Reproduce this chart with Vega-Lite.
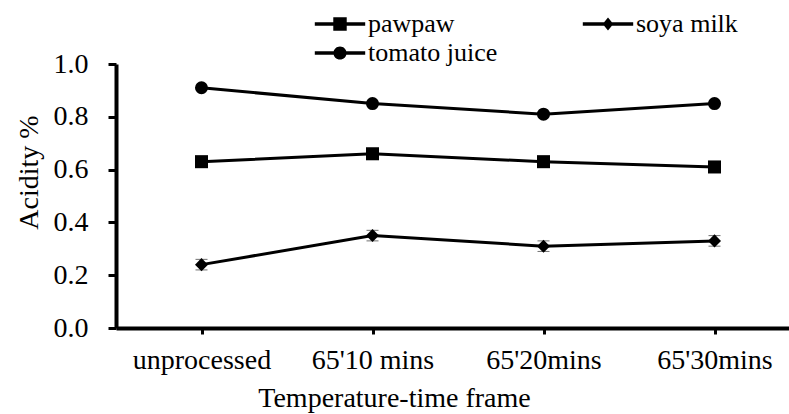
{
  "$schema": "https://vega.github.io/schema/vega-lite/v6.json",
  "width": 684,
  "height": 264,
  "autosize": {"type": "none"},
  "padding": {"left": 116, "top": 64, "right": 0, "bottom": 86},
  "background": "white",
  "config": {
    "view": {"stroke": null},
    "font": "Times New Roman, Liberation Serif, serif",
    "axis": {"labelFont": "Times New Roman, Liberation Serif, serif", "titleFont": "Times New Roman, Liberation Serif, serif", "labelColor": "black", "titleColor": "black", "domainColor": "black", "tickColor": "black", "grid": false, "titleFontWeight": "normal"},
    "legend": {"labelFont": "Times New Roman, Liberation Serif, serif"}
  },
  "data": {
    "values": [
      {"frame": "unprocessed", "product": "pawpaw", "acidity": 0.63},
      {"frame": "65'10 mins", "product": "pawpaw", "acidity": 0.66},
      {"frame": "65'20mins", "product": "pawpaw", "acidity": 0.63},
      {"frame": "65'30mins", "product": "pawpaw", "acidity": 0.61},
      {"frame": "unprocessed", "product": "soya milk", "acidity": 0.24, "lo": 0.22, "hi": 0.26},
      {"frame": "65'10 mins", "product": "soya milk", "acidity": 0.35, "lo": 0.33, "hi": 0.37},
      {"frame": "65'20mins", "product": "soya milk", "acidity": 0.31, "lo": 0.29, "hi": 0.33},
      {"frame": "65'30mins", "product": "soya milk", "acidity": 0.33, "lo": 0.31, "hi": 0.35},
      {"frame": "unprocessed", "product": "tomato juice", "acidity": 0.91},
      {"frame": "65'10 mins", "product": "tomato juice", "acidity": 0.85},
      {"frame": "65'20mins", "product": "tomato juice", "acidity": 0.81},
      {"frame": "65'30mins", "product": "tomato juice", "acidity": 0.85}
    ]
  },
  "encoding": {
    "x": {
      "field": "frame", "type": "ordinal",
      "sort": ["unprocessed", "65'10 mins", "65'20mins", "65'30mins"],
      "scale": {"type": "point", "padding": 0.5},
      "axis": {"title": "Temperature-time frame", "labelAngle": 0, "labelFontSize": 28, "titleFontSize": 28, "labelPadding": 12, "titlePadding": 10, "titleX": 278, "titleAlign": "center", "domainWidth": 4, "tickWidth": 3, "tickSize": 6}
    }
  },
  "layer": [
    {
      "mark": {"type": "line", "color": "black", "strokeWidth": 3},
      "encoding": {
        "y": {"field": "acidity", "type": "quantitative", "scale": {"domain": [0, 1]}, "title": "Acidity %",
          "axis": {"values": [0, 0.2, 0.4, 0.6, 0.8, 1.0], "format": ".1f", "labelFontSize": 28, "titleFontSize": 28, "labelPadding": 20, "titlePadding": 10, "domainWidth": 4, "tickWidth": 3, "tickSize": 8, "titleY": 108}},
        "detail": {"field": "product"}
      }
    },
    {
      "transform": [{"filter": "datum.lo != null"}],
      "mark": {"type": "errorbar", "color": "#333333", "ticks": {"size": 12, "thickness": 1}, "thickness": 1},
      "encoding": {
        "y": {"field": "lo", "type": "quantitative", "title": "Acidity %"},
        "y2": {"field": "hi"}
      }
    },
    {
      "mark": {"type": "point", "filled": true, "opacity": 1, "color": "black", "size": 170},
      "encoding": {
        "y": {"field": "acidity", "type": "quantitative", "title": "Acidity %"},
        "shape": {"field": "product", "type": "nominal", "scale": {"range": ["square", "diamond", "circle"]}, "legend": null}
      }
    },
    {
      "mark": {"type": "point", "filled": true, "opacity": 0, "color": "black", "size": 10},
      "encoding": {
        "y": {"field": "acidity", "type": "quantitative", "title": "Acidity %"},
        "shape": {"field": "product", "type": "nominal",
          "scale": {"range": [
            "M -1.8 -0.13 H 1.8 V 0.13 H -1.8 Z M -0.48 -0.48 H 0.48 V 0.48 H -0.48 Z",
            "M -1.8 -0.13 H 1.8 V 0.13 H -1.8 Z M 0 -0.46 L 0.38 0 L 0 0.46 L -0.38 0 Z",
            "M -1.8 -0.13 H 1.8 V 0.13 H -1.8 Z M -0.47 0 A 0.47 0.47 0 1 1 0.47 0 A 0.47 0.47 0 1 1 -0.47 0 Z"
          ]},
          "legend": {"title": null, "orient": "none", "legendX": 210, "legendY": -54, "direction": "horizontal", "columns": 2, "columnPadding": 84, "rowPadding": 2, "symbolSize": 784, "symbolOpacity": 1, "symbolFillColor": "black", "symbolStrokeWidth": 0, "labelFontSize": 26, "labelColor": "black", "labelOffset": 14, "symbolLimit": 0}
        }
      }
    }
  ],
  "resolve": {"scale": {"shape": "independent"}}
}
